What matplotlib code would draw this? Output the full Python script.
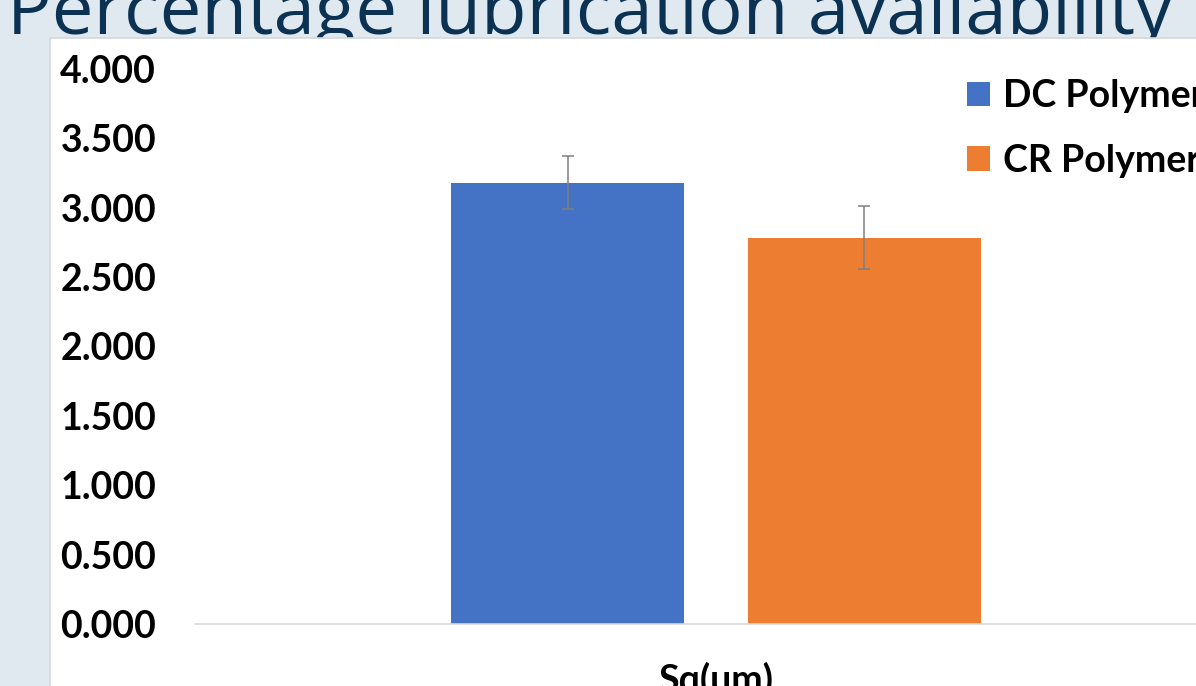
import numpy as np
import matplotlib
matplotlib.use('Agg')
import matplotlib.pyplot as plt
from matplotlib.patches import Rectangle

# data
categories = ['Sq(um)']
series = ['DC Polymer', 'CR Polymer']
dc_vals = [3.18]
cr_vals = [2.785]
dc_err = [0.19]
cr_err = [0.23]
yticks = [0.0, 0.5, 1.0, 1.5, 2.0, 2.5, 3.0, 3.5, 4.0]

plt.rcParams['font.family'] = ['Lato', 'DejaVu Sans']

fig = plt.figure(figsize=(11.96, 6.86), dpi=100, facecolor='#dfe9ef')

# title of the slide, partly cut off at the top
title = fig.text(7/1196, 1 - 34/686, 'Percentage lubrication availability',
                 fontsize=40, color='#0b3153', ha='left', va='baseline', zorder=0.5,
                 family=['Open Sans', 'DejaVu Sans'])
# stretch the font size so the title spans the same width as the slide title
r = fig.canvas.get_renderer()
tw = title.get_window_extent(r).width
title.set_fontsize(40 * 1162 / tw)

# white chart panel
panel = Rectangle((50/1196, -0.1), 1.0, 1 - 38/686 + 0.1, transform=fig.transFigure,
                  facecolor='white', edgecolor='#d4d8db', lw=1.2, zorder=1)
fig.patches.append(panel)

ax = fig.add_axes([195/1196, 1 - 624/686, (1237 - 195)/1196, (624 - 69)/686])
ax.set_zorder(2)
ax.patch.set_visible(False)

x = np.arange(len(categories)) + 0.5
w = 0.2245
off = 0.1425
ax.bar(x - off, dc_vals, w, color='#4472c4', label=series[0])
ax.bar(x + off, cr_vals, w, color='#ed7d31', label=series[1])
ax.errorbar(x - off, dc_vals, yerr=dc_err, fmt='none', ecolor='#7f7f7f',
            elinewidth=1.1, capsize=4, capthick=1.1)
ax.errorbar(x + off, cr_vals, yerr=cr_err, fmt='none', ecolor='#7f7f7f',
            elinewidth=1.1, capsize=4, capthick=1.1)

fs = 27
ax.set_xlim(0, 1)
ax.set_ylim(0, 4)
ax.set_yticks(yticks)
ax.set_yticklabels(['%.3f' % v for v in yticks], fontsize=fs, fontweight='bold')
ax.set_xticks(x)
ax.set_xticklabels(categories, fontsize=fs, fontweight='bold')
ax.tick_params(axis='y', length=0, pad=28)
ax.tick_params(axis='x', length=0, pad=27)

for s in ['top', 'right', 'left']:
    ax.spines[s].set_visible(False)
ax.spines['bottom'].set_color('#d9d9d9')
ax.spines['bottom'].set_linewidth(1.2)

leg = ax.legend(loc='upper left', bbox_to_anchor=(967/1196, 1 - 79/686),
                bbox_transform=fig.transFigure, frameon=False,
                prop={'size': fs, 'weight': 'bold'}, handlelength=0.62,
                handleheight=0.62, handletextpad=0.35, labelspacing=0.82,
                borderaxespad=0, borderpad=0)

fig.savefig('out.png', dpi=100, facecolor=fig.get_facecolor())
